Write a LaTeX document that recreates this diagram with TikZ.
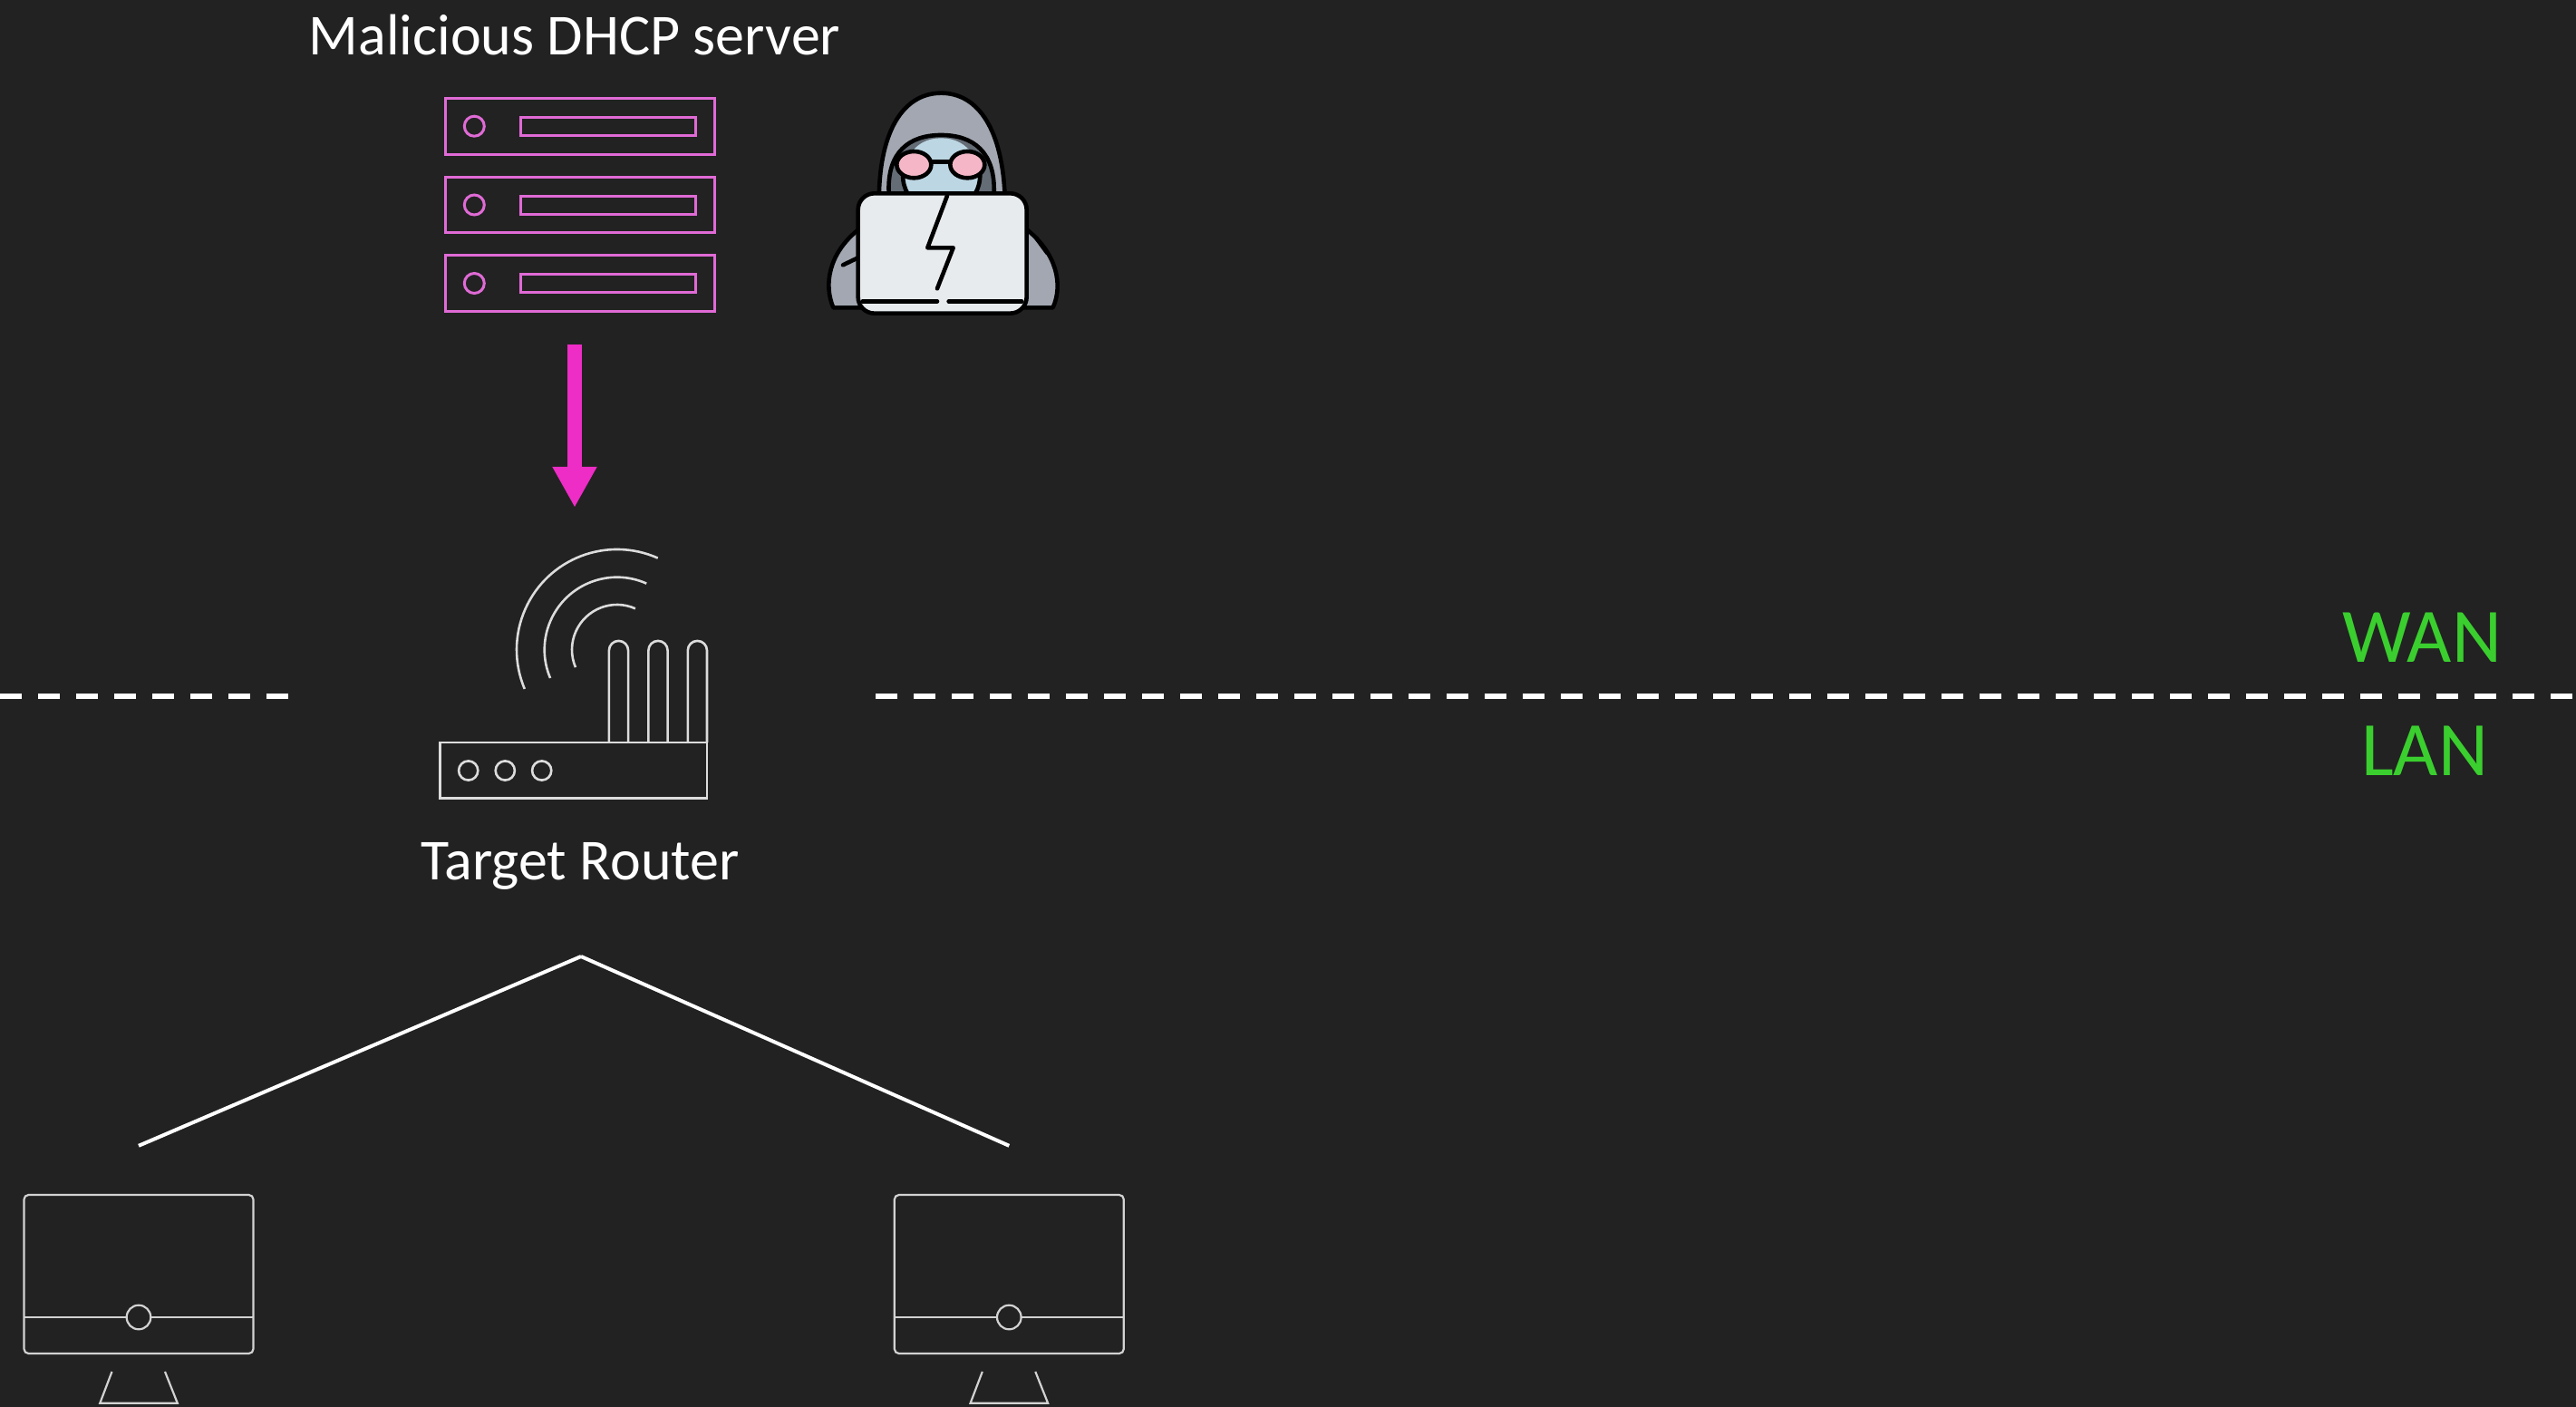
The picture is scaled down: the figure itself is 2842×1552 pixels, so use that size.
\documentclass[tikz,border=0pt]{standalone}
\usepackage{fontspec}
\setmainfont{Carlito}
\usetikzlibrary{arrows.meta}

\definecolor{bgdark}{HTML}{222222}
\definecolor{srvpink}{HTML}{E06AD6}
\definecolor{arrowpink}{HTML}{EE2CC6}
\definecolor{iconline}{HTML}{DCDCDC}
\definecolor{pcline}{HTML}{D2D2D2}
\definecolor{zonegreen}{HTML}{3ACF2E}
\definecolor{hoodgrey}{HTML}{A2A7B1}
\definecolor{shadowgrey}{HTML}{646C75}
\definecolor{faceblue}{HTML}{BCD6E3}
\definecolor{lenspink}{HTML}{F5B7C8}
\definecolor{laptopgrey}{HTML}{E8EBEE}

\tikzset{
  iconbox/.style={rectangle, draw=none, inner sep=0pt},
  caption/.style={text=white, font=\fontsize{64}{76}\selectfont, anchor=base, inner sep=0pt},
  zone/.style={text=zonegreen, font=\fontsize{85}{100}\selectfont, anchor=base, inner sep=0pt},
  srvline/.style={draw=srvpink, line width=3pt},
  routerline/.style={draw=iconline, line width=2.6pt},
  link/.style={draw=white, line width=4pt},
  border/.style={draw=white, line width=6.5pt, dash pattern=on 24pt off 18pt},
  pinkarrow/.style={draw=arrowpink, line width=15.7pt,
    -{Triangle[width=46pt,length=45pt]}},
  hackline/.style={draw=black, line width=4.6pt, line join=round, line cap=round},
  monitor/.pic={
    \draw[draw=pcline, line width=2.2pt, rounded corners=5pt]
      (-126.5,0) rectangle (126.5,175);
    \draw[draw=pcline, line width=2.2pt] (-126.5,135) -- (-13.3,135);
    \draw[draw=pcline, line width=2.2pt] (13.3,135) -- (126.5,135);
    \draw[draw=pcline, line width=2.2pt] (0,135) circle[radius=13.3];
    \draw[draw=pcline, line width=2.2pt]
      (-29.5,195) -- (-42.7,229.7) -- (42.8,229.7) -- (29,195);
  }
}

\begin{document}
\begin{tikzpicture}[x=1pt, y=-1pt]
% canvas
\fill[bgdark] (0,0) rectangle (2842,1552);
\useasboundingbox (0,0) rectangle (2842,1552);

% ---------- DHCP server ----------
\node[caption] (srvlabel) at (634,61) {Malicious DHCP server};
\foreach \yc in {139.2, 226, 312.5} {
  \draw[srvline] (491.7,\yc-30.9) rectangle (788.3,\yc+30.9);
  \draw[srvline] (523.3,\yc) circle[radius=11];
  \draw[srvline] (574,\yc-10) rectangle (767.3,\yc+10);
}
\node[iconbox, minimum width=300pt, minimum height=300pt] (server) at (634,230) {};

% ---------- attacker ----------
\begin{scope}[shift={(880,80)}, x=0.3333pt, y=-0.3333pt]
  % hood and cloak
  \filldraw[fill=hoodgrey, hackline]
    (118,778) .. controls (85,700) and (105,600) .. (195,525)
    .. controls (245,485) and (265,445) .. (270,390)
    .. controls (278,175) and (360,68) .. (475,68)
    .. controls (590,68) and (672,175) .. (685,390)
    .. controls (690,445) and (715,485) .. (765,525)
    .. controls (855,600) and (880,700) .. (845,778) -- cycle;
  % shadow inside the hood
  \fill[shadowgrey] (302,400) .. controls (295,262) and (370,207) .. (475,207)
    .. controls (580,207) and (655,262) .. (650,400) -- cycle;
  % face
  \fill[faceblue] (362,400) .. controls (332,300) and (382,217) .. (475,217)
    .. controls (568,217) and (620,300) .. (592,400) -- cycle;
  \draw[hackline] (302,400) .. controls (295,262) and (370,207) .. (475,207)
    .. controls (580,207) and (655,262) .. (650,400);
  \draw[hackline] (348,335) .. controls (348,365) and (355,385) .. (364,400);
  \draw[hackline] (604,335) .. controls (604,365) and (597,385) .. (588,400);
  % glasses
  \filldraw[fill=lenspink, hackline] (385,305) ellipse[x radius=57, y radius=44];
  \filldraw[fill=lenspink, hackline] (562,305) ellipse[x radius=57, y radius=44];
  \draw[hackline] (442,296) -- (505,296);
  % laptop
  \filldraw[fill=laptopgrey, hackline, rounded corners=18pt]
    (200,400) rectangle (758,797);
  \draw[hackline] (215,757) -- (462,757);
  \draw[hackline] (500,757) -- (742,757);
  \draw[hackline] (495,408) -- (430,580) -- (515,580) -- (462,715);
  % forearms
  \draw[hackline] (150,637) -- (198,614);
  \draw[hackline] (790,548) -- (826,597);
\end{scope}
\node[iconbox, minimum width=320pt, minimum height=280pt] (attacker) at (1040,220) {};

% ---------- router ----------
\node[iconbox, minimum width=320pt, minimum height=330pt] (router) at (634,725) {};
\draw[routerline] (485.7,819) rectangle (780,880.7);
\foreach \xc in {516.7, 557.3, 597.7}
  \draw[routerline] (\xc,850) circle[radius=10.6];
\foreach \xc in {682.5, 726, 769.4}
  \draw[routerline] (\xc-10.6,819) -- (\xc-10.6,717.5)
    arc[start angle=180, end angle=360, radius=10.6] -- (\xc+10.6,819);
\foreach \r in {110.7, 80, 49.7}
  \draw[routerline] (680.7,716.7) ++(-66:\r)
    arc[start angle=-66, end angle=-203, radius=\r];
\node[caption] (rlabel) at (640,970.7) {Target Router};

% DHCP traffic
\draw[pinkarrow] (server.south) -- (router.north);

% ---------- WAN / LAN border ----------
\coordinate (edgeL) at (0,768);
\coordinate (gapL) at (318,768);
\coordinate (gapR) at (966,768);
\coordinate (edgeR) at (2842,768);
\draw[border] (edgeL) -- (gapL);
\draw[border] (gapR) -- (edgeR);
\node[zone] (wan) at (2672,730.7) {WAN};
\node[zone] (lan) at (2675,855) {LAN};

% ---------- LAN hosts ----------
\pic at (153,1318) {monitor};
\pic at (1113.3,1318) {monitor};
\node[iconbox, minimum width=260pt, minimum height=288pt] (pcA) at (153,1408) {};
\node[iconbox, minimum width=260pt, minimum height=288pt] (pcB) at (1113.3,1408) {};
\coordinate (hub) at (641,1055);
\draw[link] (hub) -- (pcA.north);
\draw[link] (hub) -- (pcB.north);
\end{tikzpicture}
\end{document}
